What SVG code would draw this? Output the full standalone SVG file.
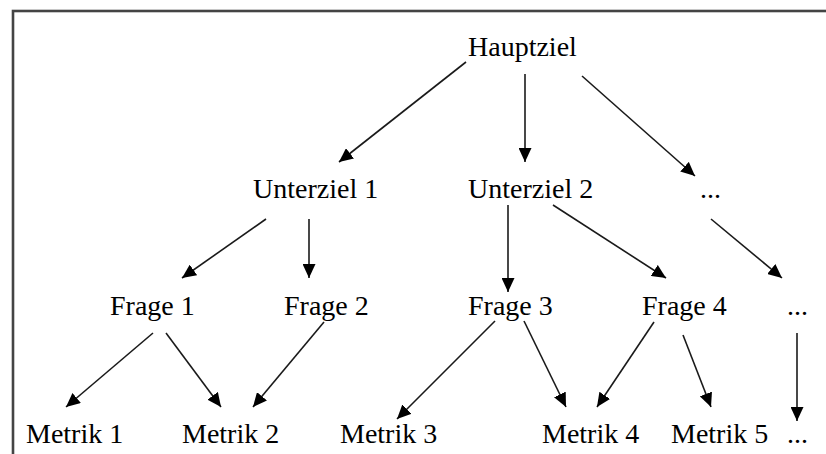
<svg xmlns="http://www.w3.org/2000/svg" width="826" height="454" viewBox="0 0 826 454">
  <style>
    .lbl { font-family: "Liberation Serif", "Times New Roman", serif; font-size: 28px; fill: #000; }
    .edge { stroke: #1a1a1a; stroke-width: 1.6; fill: none; marker-end: url(#head); }
    .frame { fill: #fff; stroke: #444; stroke-width: 2.6; }
  </style>
  <defs>
    <marker id="head" markerUnits="userSpaceOnUse" markerWidth="15" markerHeight="13" refX="14" refY="6.5" orient="auto">
      <path d="M0,0 L14,6.5 L0,13 z" fill="#000"/>
    </marker>
  </defs>

  <rect width="826" height="454" fill="#fff"/>
  <!-- frame: open to the right and bottom -->
  <rect class="frame" x="13" y="11" width="840" height="470"/>

  <g id="connectors">
    <line class="edge" x1="466" y1="62" x2="339" y2="162"/>
    <line class="edge" x1="525" y1="74" x2="525" y2="162"/>
    <line class="edge" x1="582" y1="76" x2="695" y2="176"/>

    <line class="edge" x1="266" y1="219" x2="182" y2="278"/>
    <line class="edge" x1="309" y1="219" x2="309" y2="278"/>
    <line class="edge" x1="508" y1="205" x2="508" y2="292"/>
    <line class="edge" x1="553" y1="205" x2="666" y2="278"/>
    <line class="edge" x1="711" y1="219" x2="782" y2="278"/>

    <line class="edge" x1="153" y1="333" x2="66" y2="407"/>
    <line class="edge" x1="166" y1="333" x2="221" y2="407"/>
    <line class="edge" x1="324" y1="322" x2="253" y2="407"/>
    <line class="edge" x1="495" y1="321" x2="397" y2="419"/>
    <line class="edge" x1="524" y1="321" x2="566" y2="407"/>
    <line class="edge" x1="654" y1="322" x2="597" y2="407"/>
    <line class="edge" x1="683" y1="335" x2="711" y2="407"/>
    <line class="edge" x1="797" y1="333" x2="797" y2="421"/>
  </g>

  <g id="hauptziel"><text class="lbl" x="468" y="56">Hauptziel</text></g>

  <g id="unterziel1"><text class="lbl" x="253" y="198">Unterziel 1</text></g>
  <g id="unterziel2"><text class="lbl" x="468" y="198">Unterziel 2</text></g>
  <g id="unterziel-more"><text class="lbl" x="700" y="198">...</text></g>

  <g id="frage1"><text class="lbl" x="110" y="315">Frage 1</text></g>
  <g id="frage2"><text class="lbl" x="284" y="315">Frage 2</text></g>
  <g id="frage3"><text class="lbl" x="468" y="315">Frage 3</text></g>
  <g id="frage4"><text class="lbl" x="642" y="315">Frage 4</text></g>
  <g id="frage-more"><text class="lbl" x="787" y="315">...</text></g>

  <g id="metrik1"><text class="lbl" x="26" y="443">Metrik 1</text></g>
  <g id="metrik2"><text class="lbl" x="182" y="443">Metrik 2</text></g>
  <g id="metrik3"><text class="lbl" x="340" y="443">Metrik 3</text></g>
  <g id="metrik4"><text class="lbl" x="542" y="443">Metrik 4</text></g>
  <g id="metrik5"><text class="lbl" x="671" y="443">Metrik 5</text></g>
  <g id="metrik-more"><text class="lbl" x="787" y="443">...</text></g>
</svg>
